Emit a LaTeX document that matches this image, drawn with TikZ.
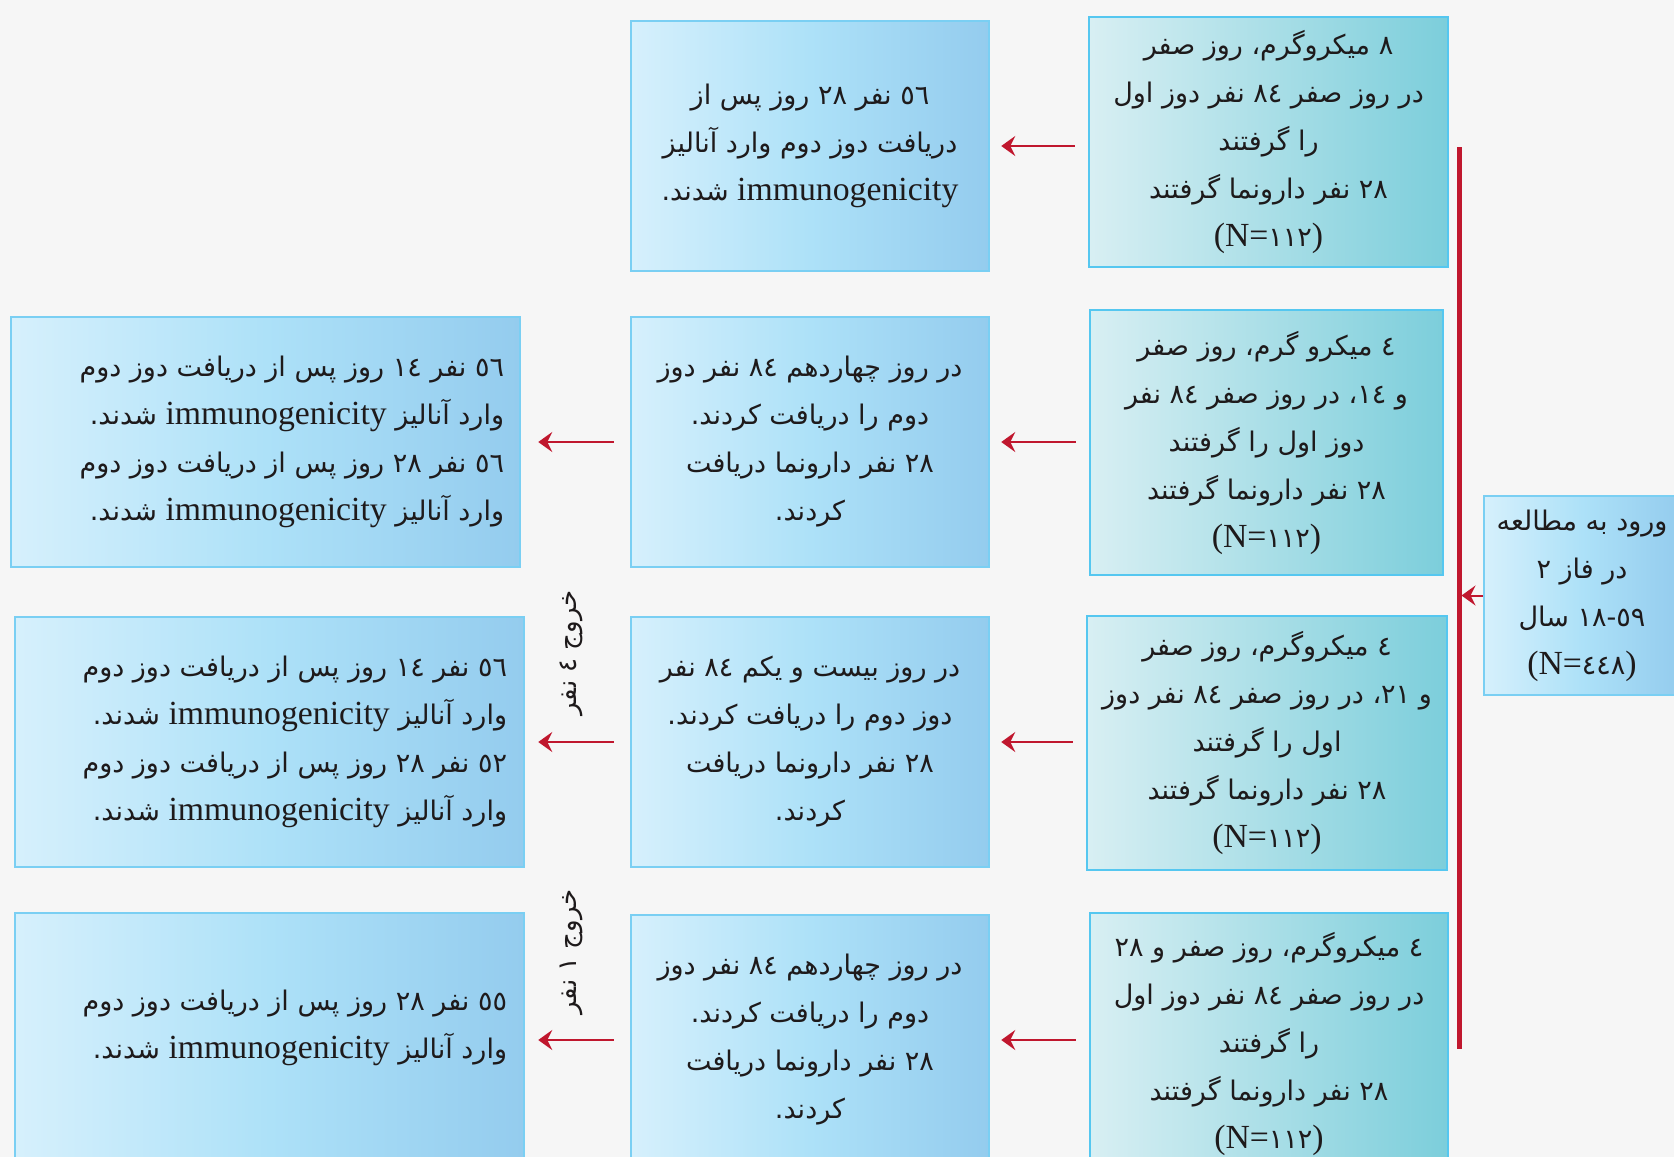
\documentclass[tikz,border=0pt]{standalone}
\usepackage{fontspec}
\newfontfamily\arabicfont[Script=Arabic]{DejaVu Sans}
\newfontfamily\latinfont[Scale=1.25]{Liberation Serif}
\TeXXeTstate=1
\usetikzlibrary{arrows.meta}
\definecolor{bgc}{HTML}{F6F6F6}
\definecolor{tealL}{HTML}{D8EFF3}
\definecolor{tealR}{HTML}{7CCEDB}
\definecolor{tealedge}{HTML}{55C7F0}
\definecolor{blueL}{HTML}{D6F0FC}
\definecolor{blueM}{HTML}{ADE1F8}
\definecolor{blueR}{HTML}{94CCEE}
\definecolor{blueedge}{HTML}{7ACFF3}
\definecolor{redc}{HTML}{C0172E}
\definecolor{txtc}{HTML}{1E1A1B}
\newcommand\rl[1]{\beginR #1\endR}
\newcommand\imm{{\latinfont immunogenicity}}
\newcommand\nN[1]{{\latinfont (N=}#1{\latinfont )}}
\newcommand\dotp{\kern0pt.}
\newcommand\acomma{\kern0pt،}
\begin{document}
\begin{tikzpicture}[x=1pt,y=-1pt,
  boxbase/.style={rectangle, line width=2.5pt, inner sep=0pt},
  tealbox/.style={boxbase, draw=tealedge, left color=tealL, right color=tealR},
  bluebox/.style={boxbase, draw=blueedge, left color=blueL, right color=blueR, middle color=blueM},
  txt/.style={font=\arabicfont\fontsize{27}{48}\selectfont, text=txtc, align=center, inner sep=0pt},
  arr/.style={draw=redc, line width=2pt, -{Stealth[length=14pt,width=20pt,inset=5pt]}},
  vline/.style={draw=redc, line width=5pt},
  exitlbl/.style={font=\arabicfont\fontsize{26}{30}\selectfont, text=txtc, rotate=90, inner sep=0pt}]
\useasboundingbox (0,0) rectangle (1674,1157);
\clip (0,0) rectangle (1674,1157);
\fill[bgc] (0,0) rectangle (1674,1157);

% first column (doses)
\node[tealbox, txt, minimum width=359, minimum height=250] (A) at (1268.5,142) {%
\rl{٨ میکروگرم\acomma{} روز صفر}\\
\rl{در روز صفر ٨٤ نفر دوز اول}\\
\rl{را گرفتند}\\
\rl{٢٨ نفر دارونما گرفتند}\\
\nN{١١٢}};
\node[tealbox, txt, minimum width=353, minimum height=265] (B) at (1266.5,442.5) {%
\rl{٤ میکرو گرم\acomma{} روز صفر}\\
\rl{و ١٤\acomma{} در روز صفر ٨٤ نفر}\\
\rl{دوز اول را گرفتند}\\
\rl{٢٨ نفر دارونما گرفتند}\\
\nN{١١٢}};
\node[tealbox, txt, minimum width=360, minimum height=254] (C) at (1267,743) {%
\rl{٤ میکروگرم\acomma{} روز صفر}\\
\rl{و ٢١\acomma{} در روز صفر ٨٤ نفر دوز}\\
\rl{اول را گرفتند}\\
\rl{٢٨ نفر دارونما گرفتند}\\
\nN{١١٢}};
\node[tealbox, txt, minimum width=358, minimum height=262] (D) at (1269,1044) {%
\rl{٤ میکروگرم\acomma{} روز صفر و ٢٨}\\
\rl{در روز صفر ٨٤ نفر دوز اول}\\
\rl{را گرفتند}\\
\rl{٢٨ نفر دارونما گرفتند}\\
\nN{١١٢}};

% entry box
\node[bluebox, txt, minimum width=196, minimum height=199] (E) at (1582,595.5) {%
\rl{ورود به مطالعه}\\
\rl{در فاز ٢}\\
\rl{\beginL١٨\kern0pt-\kern0pt٥٩\endL{} سال}\\
\nN{٤٤٨}};

% middle column
\node[bluebox, txt, minimum width=358, minimum height=250] (M1) at (810,146) {%
\rl{٥٦ نفر ٢٨ روز پس از}\\
\rl{دریافت دوز دوم وارد آنالیز}\\
\rl{\imm{} شدند\dotp}};
\node[bluebox, txt, minimum width=358, minimum height=250] (M2) at (810,442) {%
\rl{در روز چهاردهم ٨٤ نفر دوز}\\
\rl{دوم را دریافت کردند\dotp}\\
\rl{٢٨ نفر دارونما دریافت}\\
\rl{کردند\dotp}};
\node[bluebox, txt, minimum width=358, minimum height=250] (M3) at (810,742) {%
\rl{در روز بیست و یکم ٨٤ نفر}\\
\rl{دوز دوم را دریافت کردند\dotp}\\
\rl{٢٨ نفر دارونما دریافت}\\
\rl{کردند\dotp}};
\node[bluebox, txt, minimum width=358, minimum height=250] (M4) at (810,1040) {%
\rl{در روز چهاردهم ٨٤ نفر دوز}\\
\rl{دوم را دریافت کردند\dotp}\\
\rl{٢٨ نفر دارونما دریافت}\\
\rl{کردند\dotp}};

% left column
\node[bluebox, minimum width=509, minimum height=250] (L2) at (265.5,442) {};
\node[txt, align=right, anchor=east] (L2t) at ([xshift=-17pt]L2.east) {%
\rl{٥٦ نفر ١٤ روز پس از دریافت دوز دوم}\\
\rl{وارد آنالیز \imm{} شدند\dotp}\\
\rl{٥٦ نفر ٢٨ روز پس از دریافت دوز دوم}\\
\rl{وارد آنالیز \imm{} شدند\dotp}};
\node[bluebox, minimum width=509, minimum height=250] (L3) at (269.5,742) {};
\node[txt, align=right, anchor=east] (L3t) at ([xshift=-18pt]L3.east) {%
\rl{٥٦ نفر ١٤ روز پس از دریافت دوز دوم}\\
\rl{وارد آنالیز \imm{} شدند\dotp}\\
\rl{٥٢ نفر ٢٨ روز پس از دریافت دوز دوم}\\
\rl{وارد آنالیز \imm{} شدند\dotp}};
\node[bluebox, minimum width=509, minimum height=252] (L4) at (269.5,1039) {};
\node[txt, align=right, anchor=east] (L4t) at ([xshift=-18pt,yshift=11pt]L4.east) {%
\rl{٥٥ نفر ٢٨ روز پس از دریافت دوز دوم}\\
\rl{وارد آنالیز \imm{} شدند\dotp}};

% exit labels
\node[exitlbl] (X1) at (571,653) {\rl{خروج ٤ نفر}};
\node[exitlbl] (X2) at (571,952) {\rl{خروج ١ نفر}};

% red spine
\coordinate (vt) at (1459,147);
\coordinate (vb) at (1459,1049);
\draw[vline] (vt) -- (vb);
\draw[arr, shorten >=2.5pt] (E.west) -- (E.west -| vt);

% arrows
\draw[arr, shorten <=13pt, shorten >=11pt] (A.west |- M1.east) -- (M1.east);
\draw[arr, shorten <=13pt, shorten >=11pt] (B.west |- M2.east) -- (M2.east);
\draw[arr, shorten <=13pt, shorten >=11pt] (C.west |- M3.east) -- (M3.east);
\draw[arr, shorten <=13pt, shorten >=11pt] (D.west |- M4.east) -- (M4.east);
\draw[arr, shorten <=16pt, shorten >=17pt] (M2.west) -- (M2.west -| L2.east);
\draw[arr, shorten <=16pt, shorten >=13pt] (M3.west) -- (M3.west -| L3.east);
\draw[arr, shorten <=16pt, shorten >=13pt] (M4.west) -- (M4.west -| L4.east);
\end{tikzpicture}
\end{document}
